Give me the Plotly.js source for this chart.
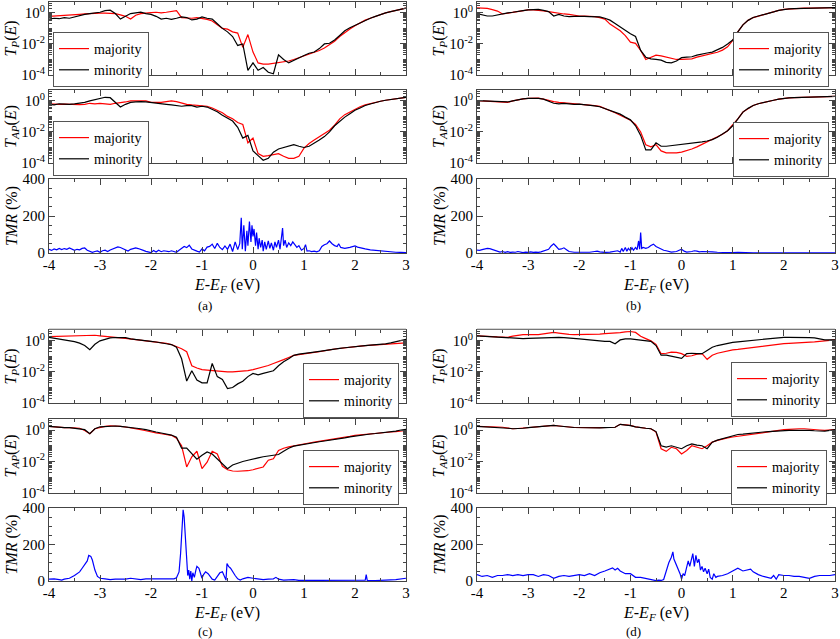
<!DOCTYPE html>
<html><head><meta charset="utf-8">
<script src="https://cdn.plot.ly/plotly-3.0.1.min.js"></script>
<style>body{margin:0;background:#fff}</style>
</head><body><div id="chart" style="width:840px;height:639px"></div>
<script>
// Energy grid (eV) shared by transmission curves
const E = [-4.0,-3.9,-3.8,-3.7,-3.6,-3.5,-3.4,-3.3,-3.2,-3.1,
 -3.0,-2.9,-2.8,-2.7,-2.6,-2.5,-2.4,-2.3,-2.2,-2.1,
 -2.0,-1.9,-1.8,-1.7,-1.6,-1.5,-1.4,-1.3,-1.2,-1.1,
 -1.0,-0.9,-0.8,-0.7,-0.6,-0.5,-0.4,-0.3,-0.2,-0.1,
 0.0,0.1,0.2,0.3,0.4,0.5,0.6,0.7,0.8,0.9,
 1.0,1.1,1.2,1.3,1.4,1.5,1.6,1.7,1.8,1.9,
 2.0,2.1,2.2,2.3,2.4,2.5,2.6,2.7,2.8,2.9,3.0];

// (a)
const aP_maj = [0.6,0.62,0.65,0.7,0.72,0.75,0.8,0.85,0.9,0.9,
 0.95,0.95,0.9,0.9,0.75,0.6,0.4,0.7,0.9,1.0,
 1.05,1.1,1.0,1.1,1.2,1.4,0.5,0.45,0.45,0.5,
 0.45,0.38,0.3,0.18,0.1,0.09,0.06,0.05,0.006,0.04,
 0.003,6e-4,5e-4,5e-4,5.5e-4,6e-4,7e-4,8e-4,1e-3,1.3e-3,
 1.9e-3,2.4e-3,3e-3,3.8e-3,5.5e-3,9e-3,1.5e-2,3e-2,5.5e-2,9e-2,
 0.15,0.23,0.34,0.45,0.6,0.78,1.0,1.2,1.45,1.7,2.0];
const aP_min = [0.4,0.45,0.42,0.5,0.45,0.55,0.7,0.8,0.9,1.0,
 1.1,1.4,1.5,0.9,0.4,0.6,0.9,1.0,1.1,0.9,
 0.8,0.6,0.4,0.45,0.38,0.45,0.55,0.5,0.35,0.4,
 0.55,0.45,0.4,0.2,0.1,0.06,0.03,0.008,0.01,2e-4,
 6e-4,2e-4,3e-4,1.5e-4,1.2e-4,2e-3,1e-3,6e-4,9e-4,1.2e-3,
 1.8e-3,2.5e-3,3e-3,5e-3,1e-2,1.1e-2,1.8e-2,3.5e-2,7e-2,0.11,
 0.16,0.24,0.33,0.45,0.6,0.8,1.0,1.2,1.45,1.7,2.0];
const aAP_maj = [0.65,0.6,0.6,0.62,0.6,0.55,0.58,0.6,0.7,0.65,
 0.7,0.65,0.6,0.7,0.75,0.85,1.0,1.0,1.1,1.0,
 0.8,0.8,0.8,0.9,1.0,0.9,0.7,0.6,0.55,0.5,
 0.5,0.45,0.35,0.25,0.17,0.1,0.07,0.04,0.03,0.002,
 0.004,4e-4,2.7e-4,3e-4,3.3e-4,4e-4,2.7e-4,2e-4,2e-4,2.7e-4,
 9e-4,1.8e-3,3e-3,5e-3,8e-3,1.3e-2,2.7e-2,7e-2,0.13,0.2,
 0.3,0.42,0.55,0.68,0.8,0.95,1.1,1.25,1.4,1.55,1.7];
const aAP_min = [0.6,0.55,0.65,0.6,0.6,0.65,0.7,0.8,1.0,1.2,
 1.5,1.7,1.6,0.8,0.4,0.6,0.8,0.85,0.9,0.85,
 0.8,0.75,0.7,0.6,0.55,0.5,0.45,0.5,0.5,0.4,
 0.45,0.4,0.3,0.2,0.12,0.08,0.05,0.02,0.004,0.006,
 6e-4,3e-4,1.5e-4,2e-4,5e-4,8e-4,1e-3,1.2e-3,1.5e-3,1.2e-3,
 1e-3,1.2e-3,1.8e-3,3e-3,5e-3,1e-2,2.5e-2,5e-2,9e-2,0.15,
 0.25,0.35,0.5,0.63,0.8,0.95,1.1,1.25,1.4,1.55,1.7];

// (b)
const bP_maj = [2.1,2.0,1.95,1.6,1.3,0.85,0.95,1.1,1.3,1.45,
 1.55,1.55,1.5,1.35,1.2,1.05,0.9,0.85,0.8,0.7,
 0.63,0.63,0.63,0.58,0.5,0.4,0.19,0.12,0.07,0.034,
 0.013,0.011,3.8e-3,1e-3,1.4e-3,1.9e-3,1.7e-3,1.4e-3,1.1e-3,1e-3,
 1e-3,1.05e-3,1.1e-3,1.4e-3,1.7e-3,2e-3,2.4e-3,2.9e-3,4e-3,6.5e-3,
 1.7e-2,0.06,0.17,0.33,0.5,0.63,0.8,1.0,1.15,1.45,
 1.7,1.8,1.9,1.95,2.0,2.0,2.05,2.1,2.1,2.15,2.2];
const bP_min = [0.9,0.75,0.63,0.63,0.75,0.8,1.0,1.1,1.3,1.4,
 1.55,1.6,1.7,1.45,1.2,0.63,0.8,0.63,0.58,0.6,
 0.63,0.6,0.58,0.56,0.55,0.45,0.34,0.21,0.12,0.07,
 0.045,0.03,3.8e-3,1.4e-3,1.1e-3,1e-3,9e-4,6.5e-4,6e-4,8e-4,
 1.3e-3,1.4e-3,1.5e-3,1.9e-3,2.3e-3,2.6e-3,3e-3,4.3e-3,6e-3,1e-2,
 1.8e-2,0.06,0.17,0.33,0.5,0.63,0.8,1.0,1.15,1.45,
 1.7,1.8,1.9,1.95,2.0,2.0,2.05,2.1,2.1,2.15,2.2];
const bAP_maj = [1.05,1.0,0.95,0.9,0.85,0.8,0.8,1.0,1.2,1.35,
 1.45,1.5,1.5,1.3,1.05,0.9,0.8,0.75,0.7,0.68,
 0.65,0.6,0.55,0.5,0.44,0.33,0.24,0.17,0.12,0.08,
 0.056,0.03,0.01,1.5e-3,1.1e-3,1.5e-3,6e-4,4.5e-4,4.3e-4,4.5e-4,
 5e-4,6e-4,8e-4,1.1e-3,1.6e-3,2.2e-3,3e-3,4.5e-3,7e-3,1.2e-2,
 2.7e-2,7e-2,0.19,0.33,0.5,0.65,0.8,0.95,1.1,1.3,
 1.45,1.55,1.6,1.65,1.7,1.75,1.8,1.85,1.9,1.9,1.95];
const bAP_min = [1.05,1.0,1.0,0.95,0.95,0.9,0.85,1.0,1.2,1.35,
 1.45,1.5,1.45,1.3,0.95,0.7,0.65,0.7,0.65,0.6,
 0.62,0.58,0.52,0.48,0.42,0.32,0.24,0.18,0.14,0.09,
 0.06,0.025,0.006,7e-4,7e-4,2e-3,1.2e-3,1.2e-3,1.3e-3,1.4e-3,
 1.5e-3,1.7e-3,1.9e-3,2.1e-3,2.3e-3,2.6e-3,3.2e-3,4.5e-3,7e-3,1.2e-2,
 2.5e-2,7e-2,0.19,0.33,0.5,0.65,0.8,0.95,1.1,1.3,
 1.45,1.55,1.6,1.65,1.7,1.75,1.8,1.85,1.9,1.9,1.95];

// (c)
const cP_maj = [1.86,1.9,2.0,2.1,2.2,2.3,2.35,2.4,2.4,2.3,
 2.1,2.0,1.86,1.7,1.55,1.45,1.33,1.25,1.15,1.05,
 0.93,0.87,0.81,0.7,0.58,0.43,0.31,0.2,0.025,0.018,
 0.014,0.013,0.012,0.011,0.01,0.01,0.01,0.0105,0.011,0.012,
 0.014,0.017,0.021,0.026,0.035,0.045,0.062,0.085,0.117,0.13,
 0.15,0.16,0.18,0.2,0.24,0.26,0.3,0.32,0.35,0.38,
 0.43,0.46,0.5,0.52,0.55,0.58,0.64,0.67,0.7,0.72,0.74];
const cP_min = [1.7,1.5,1.33,1.2,1.05,0.9,0.71,0.5,0.27,0.6,
 1.0,1.3,1.55,1.65,1.7,1.6,1.33,1.25,1.15,1.05,
 0.93,0.85,0.71,0.65,0.58,0.39,0.07,2.6e-3,0.012,3e-3,
 2e-3,2e-3,0.035,5e-3,3.3e-3,8.5e-4,1e-3,1.7e-3,2.5e-3,5e-3,
 8e-3,6.5e-3,8e-3,9.5e-3,0.012,0.025,0.045,0.07,0.117,0.14,
 0.16,0.17,0.19,0.21,0.24,0.27,0.3,0.33,0.36,0.4,
 0.43,0.46,0.5,0.54,0.57,0.6,0.65,0.75,0.9,1.1,1.25];
const cAP_maj = [1.7,1.6,1.4,1.4,1.4,1.35,1.3,0.94,0.58,1.2,
 1.5,1.7,1.87,1.87,1.7,1.55,1.4,1.25,1.05,0.9,
 0.74,0.66,0.58,0.52,0.46,0.3,0.1,4.5e-3,0.02,0.045,
 3.5e-3,9e-3,0.045,0.03,5e-3,3e-3,2.5e-3,2.4e-3,2.4e-3,2.6e-3,
 3e-3,3.5e-3,4.5e-3,0.012,0.015,0.05,0.07,0.085,0.1,0.115,
 0.13,0.15,0.17,0.19,0.21,0.24,0.27,0.3,0.34,0.4,
 0.46,0.5,0.54,0.58,0.62,0.66,0.7,0.75,0.8,0.87,0.93];
const cAP_min = [1.7,1.55,1.45,1.4,1.4,1.3,1.2,1.05,0.58,1.2,
 1.6,1.7,1.8,1.8,1.7,1.6,1.5,1.35,1.2,1.05,
 0.85,0.75,0.65,0.55,0.48,0.35,0.07,0.07,0.03,0.014,
 0.025,0.04,0.03,0.015,7e-3,3.5e-3,6e-3,8e-3,0.01,0.012,
 0.015,0.017,0.02,0.022,0.024,0.028,0.045,0.07,0.095,0.11,
 0.12,0.14,0.16,0.18,0.2,0.22,0.25,0.28,0.32,0.37,
 0.42,0.47,0.52,0.56,0.6,0.64,0.68,0.75,0.85,1.0,1.1];

// (d)
const dP_maj = [2.1,2.1,2.0,1.9,1.8,1.7,1.7,2.0,2.3,2.5,
 2.5,2.4,2.5,2.8,3.2,3.5,3.2,2.8,2.6,2.5,
 2.5,2.5,2.5,2.5,2.7,2.9,3.0,3.1,3.4,3.8,
 4.0,3.5,2.0,1.4,1.0,0.6,0.15,0.16,0.19,0.18,
 0.15,0.1,0.11,0.14,0.15,0.065,0.12,0.16,0.19,0.23,
 0.26,0.28,0.31,0.34,0.39,0.42,0.46,0.52,0.57,0.62,
 0.66,0.7,0.72,0.76,0.78,0.82,0.86,0.94,1.0,1.08,1.15];
const dP_min = [2.1,2.0,1.86,1.8,1.7,1.6,1.55,1.45,1.33,1.4,
 1.45,1.5,1.55,1.55,1.55,1.6,1.7,1.6,1.55,1.45,
 1.33,1.25,1.15,1.1,0.93,0.93,0.93,0.65,1.15,1.33,
 1.33,1.2,1.15,1.05,0.93,0.5,0.12,0.12,0.1,0.09,
 0.075,0.15,0.16,0.15,0.15,0.24,0.39,0.5,0.6,0.7,
 0.81,0.87,0.94,1.0,1.15,1.2,1.33,1.4,1.55,1.6,
 1.7,1.7,1.7,1.75,1.7,1.6,1.55,1.3,1.15,1.15,1.15];
const dAP_maj = [1.7,1.7,1.65,1.6,1.55,1.5,1.3,1.2,1.25,1.35,
 1.4,1.5,1.6,1.7,1.85,1.95,1.8,1.6,1.55,1.45,
 1.4,1.4,1.4,1.4,1.4,1.45,1.55,1.5,2.3,2.2,
 1.95,1.6,1.4,1.3,1.2,0.74,0.065,0.044,0.08,0.065,
 0.03,0.05,0.1,0.083,0.065,0.1,0.17,0.22,0.28,0.32,
 0.36,0.4,0.46,0.52,0.58,0.65,0.74,0.8,0.85,0.95,
 1.05,1.1,1.2,1.2,1.2,1.1,1.05,1.0,0.95,1.0,1.05];
const dAP_min = [1.7,1.65,1.6,1.55,1.5,1.45,1.3,1.2,1.2,1.3,
 1.4,1.5,1.6,1.7,1.85,1.95,1.8,1.6,1.55,1.45,
 1.4,1.35,1.35,1.35,1.35,1.4,1.5,1.5,2.3,2.2,
 1.9,1.6,1.4,1.3,1.2,0.8,0.1,0.083,0.1,0.08,
 0.065,0.1,0.13,0.11,0.1,0.065,0.17,0.23,0.28,0.36,
 0.46,0.52,0.55,0.58,0.65,0.7,0.75,0.8,0.85,0.9,
 0.95,0.95,0.95,0.97,0.95,0.95,0.9,0.88,0.85,0.95,1.05];

// TMR (%) as [energy, value] pairs
const tmrA = [[-4.00,20],[-3.95,14],[-3.90,22],[-3.85,17],[-3.80,25],[-3.75,19],[-3.70,24],[-3.65,20],[-3.60,27],[-3.55,21],[-3.50,14],[-3.45,20],[-3.40,17],[-3.35,25],[-3.30,27],[-3.25,15],[-3.20,9],[-3.15,4],[-3.10,8],[-3.05,11],[-3.00,4],[-2.95,12],[-2.90,15],[-2.85,8],[-2.80,16],[-2.75,23],[-2.70,29],[-2.65,33],[-2.60,30],[-2.55,24],[-2.50,15],[-2.45,11],[-2.40,20],[-2.35,25],[-2.30,28],[-2.25,24],[-2.20,21],[-2.15,14],[-2.10,9],[-2.05,7],[-2.00,2],[-1.95,13],[-1.90,5],[-1.85,15],[-1.80,7],[-1.75,12],[-1.70,9],[-1.65,7],[-1.60,12],[-1.55,10],[-1.50,4],[-1.45,15],[-1.40,25],[-1.35,35],[-1.30,29],[-1.25,42],[-1.20,22],[-1.15,14],[-1.10,10],[-1.05,5],[-1.00,22],[-0.95,12],[-0.90,32],[-0.85,36],[-0.80,48],[-0.75,24],[-0.70,52],[-0.65,30],[-0.60,18],[-0.55,38],[-0.50,20],[-0.45,48],[-0.40,8],[-0.35,60],[-0.30,18],[-0.26,50],[-0.23,190],[-0.21,20],[-0.18,150],[-0.15,10],[-0.12,120],[-0.10,40],[-0.07,170],[-0.04,60],[-0.02,150],[0.00,90],[0.02,130],[0.05,40],[0.07,110],[0.10,20],[0.12,80],[0.15,30],[0.18,70],[0.20,10],[0.23,60],[0.26,20],[0.30,65],[0.33,25],[0.36,55],[0.40,15],[0.43,60],[0.46,30],[0.50,70],[0.53,20],[0.56,80],[0.58,135],[0.60,40],[0.63,70],[0.66,30],[0.70,55],[0.74,40],[0.78,60],[0.82,45],[0.86,30],[0.90,40],[0.95,15],[1.00,25],[1.03,45],[1.06,10],[1.10,12],[1.15,8],[1.20,10],[1.25,6],[1.30,12],[1.35,35],[1.40,45],[1.45,50],[1.50,65],[1.55,50],[1.60,40],[1.65,35],[1.68,50],[1.72,30],[1.80,25],[1.90,30],[2.00,38],[2.05,32],[2.10,28],[2.20,22],[2.30,17],[2.40,14],[2.50,12],[2.60,9],[2.70,6],[2.80,4],[2.90,3],[3.00,2]];
const tmrB = [[-4.00,15],[-3.95,14],[-3.90,18],[-3.85,22],[-3.80,25],[-3.75,24],[-3.70,20],[-3.65,15],[-3.60,10],[-3.55,5],[-3.50,8],[-3.45,4],[-3.40,7],[-3.35,3],[-3.30,5],[-3.25,4],[-3.20,8],[-3.15,3],[-3.10,2],[-3.05,5],[-3.00,3],[-2.95,6],[-2.90,3],[-2.85,5],[-2.80,3],[-2.75,6],[-2.70,10],[-2.65,15],[-2.60,20],[-2.55,38],[-2.50,50],[-2.45,35],[-2.40,20],[-2.35,22],[-2.30,28],[-2.25,18],[-2.20,8],[-2.10,4],[-2.00,3],[-1.90,2],[-1.80,4],[-1.70,8],[-1.65,10],[-1.60,6],[-1.50,3],[-1.40,5],[-1.30,8],[-1.25,12],[-1.20,5],[-1.17,25],[-1.14,8],[-1.10,30],[-1.07,10],[-1.04,25],[-1.00,12],[-0.97,28],[-0.94,15],[-0.90,30],[-0.87,18],[-0.84,65],[-0.82,20],[-0.80,110],[-0.78,25],[-0.75,30],[-0.70,25],[-0.65,30],[-0.60,40],[-0.55,48],[-0.50,35],[-0.45,28],[-0.40,22],[-0.35,15],[-0.30,12],[-0.25,8],[-0.20,5],[-0.10,8],[-0.05,15],[0.00,20],[0.05,10],[0.10,5],[0.20,8],[0.25,12],[0.30,10],[0.35,6],[0.40,8],[0.50,5],[0.60,6],[0.70,4],[0.80,2],[0.90,2],[1.00,2],[1.10,3],[1.20,1],[1.40,1],[1.60,1],[1.80,1],[2.00,1],[2.20,1],[2.40,1],[2.60,1],[2.80,1],[3.00,1]];
const tmrC = [[-4.00,10],[-3.90,12],[-3.80,8],[-3.75,5],[-3.70,10],[-3.60,15],[-3.50,30],[-3.40,50],[-3.35,70],[-3.30,90],[-3.25,110],[-3.22,140],[-3.18,135],[-3.15,115],[-3.10,60],[-3.05,25],[-3.00,15],[-2.90,12],[-2.80,8],[-2.70,10],[-2.60,8],[-2.50,10],[-2.40,15],[-2.30,10],[-2.20,8],[-2.10,12],[-2.00,12],[-1.90,10],[-1.80,12],[-1.70,8],[-1.60,8],[-1.55,12],[-1.50,18],[-1.45,50],[-1.42,150],[-1.39,330],[-1.37,390],[-1.35,350],[-1.32,220],[-1.30,120],[-1.28,30],[-1.26,60],[-1.24,10],[-1.22,55],[-1.20,0],[-1.18,45],[-1.15,20],[-1.12,60],[-1.10,80],[-1.06,70],[-1.03,40],[-1.00,15],[-0.97,35],[-0.93,50],[-0.88,40],[-0.84,25],[-0.80,10],[-0.75,5],[-0.70,25],[-0.65,45],[-0.60,50],[-0.57,30],[-0.53,5],[-0.51,95],[-0.48,80],[-0.44,70],[-0.40,50],[-0.35,30],[-0.30,12],[-0.25,5],[-0.20,12],[-0.15,18],[-0.10,20],[0.00,15],[0.10,12],[0.20,8],[0.30,10],[0.40,12],[0.45,20],[0.50,10],[0.60,5],[0.70,5],[0.80,8],[0.90,3],[1.00,3],[1.20,3],[1.40,3],[1.60,2],[1.80,2],[2.00,2],[2.20,4],[2.22,35],[2.24,3],[2.40,2],[2.60,4],[2.80,8],[3.00,15]];
const tmrD = [[-4.00,35],[-3.90,25],[-3.80,30],[-3.70,20],[-3.60,30],[-3.50,30],[-3.40,35],[-3.30,30],[-3.20,35],[-3.10,30],[-3.00,35],[-2.90,35],[-2.80,25],[-2.70,35],[-2.60,30],[-2.50,15],[-2.40,25],[-2.30,30],[-2.20,25],[-2.10,30],[-2.00,35],[-1.90,30],[-1.80,40],[-1.70,30],[-1.60,45],[-1.50,55],[-1.40,65],[-1.35,72],[-1.30,60],[-1.25,70],[-1.20,55],[-1.15,45],[-1.10,40],[-1.00,40],[-0.90,20],[-0.80,20],[-0.70,15],[-0.60,8],[-0.50,2],[-0.45,5],[-0.40,3],[-0.35,8],[-0.30,60],[-0.25,100],[-0.20,130],[-0.17,160],[-0.15,120],[-0.10,90],[-0.07,70],[-0.03,40],[0.00,10],[0.03,40],[0.06,30],[0.10,70],[0.13,110],[0.16,80],[0.19,120],[0.22,150],[0.25,80],[0.28,140],[0.31,100],[0.34,120],[0.37,60],[0.40,80],[0.43,50],[0.46,70],[0.50,40],[0.53,65],[0.56,20],[0.60,10],[0.63,40],[0.67,20],[0.70,25],[0.80,30],[0.90,40],[1.00,55],[1.05,65],[1.10,70],[1.20,55],[1.30,60],[1.35,65],[1.40,50],[1.50,35],[1.60,25],[1.70,20],[1.75,15],[1.80,30],[1.85,10],[1.90,35],[2.00,30],[2.10,30],[2.20,25],[2.30,25],[2.40,20],[2.50,15],[2.60,25],[2.70,30],[2.80,30],[2.90,30],[3.00,35]];

const xTickVals = [-4,-3,-2,-1,0,1,2,3];
const xTickText = ['-4','-3','-2','-1','0','1','2','3'];
const logTickVals = [1e-4,1e-2,1];
const logTickText = ['10<sup>-4</sup>','10<sup>-2</sup>','10<sup>0</sup>'];
const tmrTickVals = [0,200,400];
const legendNames = ['majority','minority'];
const xTitle = '<i>E</i>-<i>E</i><sub><i>F</i></sub> (eV)';

// ---------- layout helpers ----------
const W=840,H=639;
const FONT='Liberation Serif, DejaVu Serif, serif';
const AX='#444';
const colX = {a:[49,406], b:[477,835], c:[49,406], d:[477,835]};
const rowY = {a:[[2,75],[90,163],[179,253]], b:[[2,75],[90,163],[179,253]],
              c:[[330,403],[419,493],[508,581]], d:[[330,403],[419,493],[508,581]]};
const xTitleTop = {a:274, b:274, c:602, d:602};
const legendBox = { // [x px, top px, anchor]
  a:[[53,32,'left'],[53,121,'left']],
  b:[[829,32,'right'],[829,122,'right']],
  c:[[399,363,'right'],[399,450,'right']],
  d:[[827,362,'right'],[827,450,'right']]
};
const panelData = {
  a:[[aP_maj,aP_min],[aAP_maj,aAP_min],tmrA],
  b:[[bP_maj,bP_min],[bAP_maj,bAP_min],tmrB],
  c:[[cP_maj,cP_min],[cAP_maj,cAP_min],tmrC],
  d:[[dP_maj,dP_min],[dAP_maj,dAP_min],tmrD]
};
const yTitles = ['<i>T<sub>P</sub></i>(<i>E</i>)','<i>T<sub>AP</sub></i>(<i>E</i>)','<i>TMR</i> (%)'];

const layout = {
  width:W, height:H, margin:{l:0,r:0,t:0,b:0},
  paper_bgcolor:'#fff', plot_bgcolor:'#fff', showlegend:true,
  font:{family:FONT, color:'#000', size:15},
  annotations:[], shapes:[]
};
const traces = [];
let axIdx = 0, legIdx = 0;
['a','b','c','d'].forEach(p=>{
  for(let r=0;r<3;r++){
    axIdx++;
    const xs = axIdx===1?'':axIdx;
    const xa = 'xaxis'+xs, ya = 'yaxis'+xs;
    const [x0,x1] = colX[p]; const [t,b] = rowY[p][r];
    const isT = r<2;
    layout[xa] = {
      domain:[x0/W,x1/W], anchor:'y'+xs, range:[-4,3],
      tickmode:'array', tickvals:xTickVals, ticktext:xTickText,
      showticklabels:!isT, ticks:'inside', ticklen:6, tickwidth:1, tickcolor:AX,
      showline:true, linecolor:AX, linewidth:1, mirror:'ticks',
      minor:{dtick:0.5, tick0:-4, ticks:'inside', ticklen:3, tickcolor:AX},
      showgrid:false, zeroline:false, ticklabelstandoff:-2,
      tickfont:{family:FONT,size:15,color:'#000'}
    };
    layout[ya] = {
      domain:[1-b/H,1-t/H], anchor:'x'+xs,
      ticks:'inside', ticklen:6, tickwidth:1, tickcolor:AX,
      showline:true, linecolor:AX, linewidth:1, mirror:'ticks',
      showgrid:false, zeroline:false,
      tickfont:{family:FONT,size:15,color:'#000'},
      title:{text:yTitles[r], font:{family:FONT,size:16,color:'#000'}, standoff:0}
    };
    if(isT){
      Object.assign(layout[ya], {type:'log', range:[-4,0.7], tickmode:'array',
        tickvals:logTickVals, ticktext:logTickText,
        minor:{dtick:'D1', ticks:'inside', ticklen:3, tickcolor:AX}});
      legIdx++;
      const lg = legIdx===1?'legend':'legend'+legIdx;
      const [lx,lt,anc] = legendBox[p][r];
      layout[lg] = {x:lx/W, y:1-lt/H, xanchor:anc, yanchor:'top',
        bgcolor:'#fff', bordercolor:'#555', borderwidth:1,
        font:{family:FONT,size:14,color:'#000'}, itemwidth:30, tracegroupgap:0};
      const pair = panelData[p][r];
      traces.push({x:E, y:pair[0], type:'scatter', mode:'lines', name:legendNames[0],
        line:{color:'#ff0000', width:1.2}, xaxis:'x'+xs, yaxis:'y'+xs, legend:lg});
      traces.push({x:E, y:pair[1], type:'scatter', mode:'lines', name:legendNames[1],
        line:{color:'#000000', width:1.2}, xaxis:'x'+xs, yaxis:'y'+xs, legend:lg});
    } else {
      Object.assign(layout[ya], {range:[0,400], tickmode:'array', tickvals:tmrTickVals,
        minor:{dtick:50, ticks:'inside', ticklen:3, tickcolor:AX}});
      const tm = panelData[p][2];
      traces.push({x:tm.map(d=>d[0]), y:tm.map(d=>d[1]), type:'scatter', mode:'lines',
        line:{color:'#0000ff', width:1.2}, xaxis:'x'+xs, yaxis:'y'+xs, showlegend:false});
      // x-axis title placed at the reference position
      layout.annotations.push({text:xTitle, x:(x0+x1)/2/W, y:1-xTitleTop[p]/H, xref:'paper', yref:'paper',
        showarrow:false, xanchor:'center', yanchor:'top', font:{family:FONT,size:16,color:'#000'}});
    }
  }
});
// panel captions
[['(a)',205,305],['(b)',633,305],['(c)',205,631],['(d)',633,631]].forEach(c=>{
  layout.annotations.push({text:c[0], x:c[1]/W, y:1-c[2]/H, xref:'paper', yref:'paper',
    showarrow:false, xanchor:'center', yanchor:'middle', font:{family:FONT,size:13,color:'#000'}});
});
// separator rules under upper panels
[[49,406],[477,835]].forEach(s=>{
  layout.shapes.push({type:'line', xref:'paper', yref:'paper', x0:s[0]/W, x1:s[1]/W,
    y0:1-329/H, y1:1-329/H, line:{color:'#aaa', width:1}});
});
Plotly.newPlot('chart', traces, layout, {staticPlot:true, displayModeBar:false});
</script>
</body></html>
